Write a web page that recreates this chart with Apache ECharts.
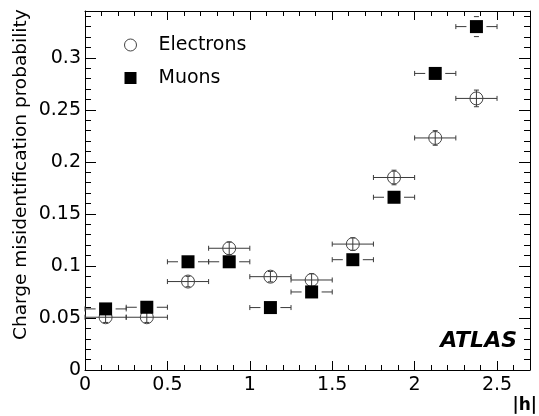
<!DOCTYPE html>
<html>
<head>
<meta charset="utf-8">
<script src="https://cdn.jsdelivr.net/npm/echarts@6/dist/echarts.min.js"></script>
<style>
html,body{margin:0;padding:0;background:#fff;}
#chart{width:539px;height:416px;}
</style>
</head>
<body>
<div id="chart"></div>
<script>
// |eta| bin centres and half widths
const etaCenters = [0.125, 0.375, 0.625, 0.875, 1.125, 1.375, 1.625, 1.875, 2.125, 2.375];
const etaHalfWidth = [0.125, 0.125, 0.125, 0.125, 0.125, 0.125, 0.125, 0.125, 0.125, 0.125];
// charge misidentification probability
const electronValues = [0.0507, 0.0507, 0.085, 0.117, 0.0897, 0.0865, 0.121, 0.185, 0.223, 0.261];
const electronErrors = [0.005, 0.005, 0.005, 0.006, 0.005, 0.006, 0.006, 0.007, 0.007, 0.008];
const muonValues = [0.0587, 0.0603, 0.104, 0.104, 0.060, 0.075, 0.106, 0.166, 0.285, 0.330];
const muonErrors = [0.002, 0.002, 0.003, 0.003, 0.003, 0.003, 0.004, 0.005, 0.006, 0.0096];
const seriesNames = ['Electrons', 'Muons'];
const xAxisTitle = '|h|';
const yAxisTitle = 'Charge misidentification probability';
const experimentLabel = 'ATLAS';

const FONT = 'DejaVu Sans';

function rows(vals, errs) {
  return etaCenters.map((x, i) => [x, vals[i], etaHalfWidth[i], errs[i]]);
}

function errRender(gapHalf, markHalf) {
  return function (params, api) {
    const x = api.value(0), y = api.value(1), xe = api.value(2), ye = api.value(3);
    const c = api.coord([x, y]);
    const l = api.coord([x - xe, y]);
    const r = api.coord([x + xe, y]);
    const t = api.coord([x, y + ye]);
    const b = api.coord([x, y - ye]);
    const cap = 2.5;
    const style = { stroke: '#3a3a3a', lineWidth: 1 };
    const children = [];
    const line = (x1, y1, x2, y2) => children.push({ type: 'line', shape: { x1, y1, x2, y2 }, style });
    if (gapHalf > 0) {
      line(l[0], c[1], c[0] - gapHalf, c[1]);
      line(c[0] + gapHalf, c[1], r[0], c[1]);
    } else {
      line(l[0], c[1], r[0], c[1]);
    }
    line(l[0], c[1] - cap, l[0], c[1] + cap);
    line(r[0], c[1] - cap, r[0], c[1] + cap);
    const dy = c[1] - t[1];
    if (gapHalf > 0) {
      if (dy > markHalf) {
        if (dy > gapHalf) {
          line(c[0], t[1], c[0], c[1] - gapHalf);
          line(c[0], c[1] + gapHalf, c[0], b[1]);
        }
        line(c[0] - cap, t[1], c[0] + cap, t[1]);
        line(c[0] - cap, b[1], c[0] + cap, b[1]);
      }
    } else {
      line(c[0], t[1], c[0], b[1]);
      line(c[0] - cap, t[1], c[0] + cap, t[1]);
      line(c[0] - cap, b[1], c[0] + cap, b[1]);
    }
    return { type: 'group', children };
  };
}

const axisLineStyle = { show: true, onZero: false, lineStyle: { color: '#000', width: 1 } };
function xAx(pos, interval, tickLen, labels, lineShow) {
  return {
    type: 'value', position: pos, min: 0, max: 2.7, interval: interval,
    axisLine: lineShow ? axisLineStyle : { show: false, onZero: false },
    axisTick: { show: true, inside: true, length: tickLen, lineStyle: { color: '#000', width: 1 } },
    axisLabel: labels ? { show: true, color: '#000', fontFamily: FONT, fontSize: 19, margin: 6, showMaxLabel: false } : { show: false },
    splitLine: { show: false }
  };
}
function yAx(pos, interval, tickLen, labels, lineShow) {
  return {
    type: 'value', position: pos, min: 0, max: 0.345, interval: interval,
    axisLine: lineShow ? axisLineStyle : { show: false, onZero: false },
    axisTick: { show: true, inside: true, length: tickLen, lineStyle: { color: '#000', width: 1 } },
    axisLabel: labels ? { show: true, color: '#000', fontFamily: FONT, fontSize: 19, margin: 4, showMaxLabel: false } : { show: false },
    splitLine: { show: false }
  };
}

const chart = echarts.init(document.getElementById('chart'), null, { renderer: 'canvas' });
chart.setOption({
  animation: false,
  backgroundColor: '#fff',
  grid: { left: 85, right: 9, top: 11, bottom: 46, containLabel: false },
  xAxis: [
    xAx('bottom', 0.5, 9, true, true),
    xAx('bottom', 0.1, 5, false, false),
    xAx('top', 0.5, 9, false, true),
    xAx('top', 0.1, 5, false, false)
  ],
  yAxis: [
    yAx('left', 0.05, 11, true, true),
    yAx('left', 0.01, 6, false, false),
    yAx('right', 0.05, 11, false, true),
    yAx('right', 0.01, 6, false, false)
  ],
  legend: {
    data: seriesNames,
    orient: 'vertical', left: 124, top: 35, padding: 0,
    itemWidth: 12, itemHeight: 12, itemGap: 13,
    itemStyle: { borderWidth: 1 },
    textStyle: { color: '#000', fontFamily: FONT, fontSize: 19, lineHeight: 20, padding: [0, 0, 0, 17] }
  },
  series: [
    {
      name: 'eErr', type: 'custom', xAxisIndex: 0, yAxisIndex: 0,
      renderItem: errRender(0, 0), data: rows(electronValues, electronErrors), z: 3, silent: true
    },
    {
      name: 'mErr', type: 'custom', xAxisIndex: 0, yAxisIndex: 0,
      renderItem: errRender(10, 6.5), data: rows(muonValues, muonErrors), z: 3, silent: true
    },
    {
      name: seriesNames[0], type: 'scatter', xAxisIndex: 0, yAxisIndex: 0,
      symbol: 'circle', symbolSize: 13,
      itemStyle: { color: 'rgba(255,255,255,0)', borderColor: '#444', borderWidth: 1, opacity: 1 },
      data: etaCenters.map((x, i) => [x, electronValues[i]]), z: 4
    },
    {
      name: seriesNames[1], type: 'scatter', xAxisIndex: 0, yAxisIndex: 0,
      symbol: 'rect', symbolSize: 13,
      itemStyle: { color: '#000', opacity: 1 },
      data: etaCenters.map((x, i) => [x, muonValues[i]]), z: 4
    }
  ],
  graphic: [
    {
      type: 'text', x: 21, y: 340, rotation: Math.PI / 2,
      style: { text: yAxisTitle, fill: '#000', font: '18.5px "DejaVu Sans"', textAlign: 'left', textVerticalAlign: 'middle' }
    },
    {
      type: 'text', x: 537, y: 406,
      style: { text: xAxisTitle, fill: '#000', font: 'bold 17px "DejaVu Sans"', textAlign: 'right', textVerticalAlign: 'middle' }
    },
    {
      type: 'text', x: 517, y: 341,
      style: { text: experimentLabel, fill: '#000', font: 'italic bold 22px "DejaVu Sans"', textAlign: 'right', textVerticalAlign: 'middle' }
    }
  ]
});
</script>
</body>
</html>
